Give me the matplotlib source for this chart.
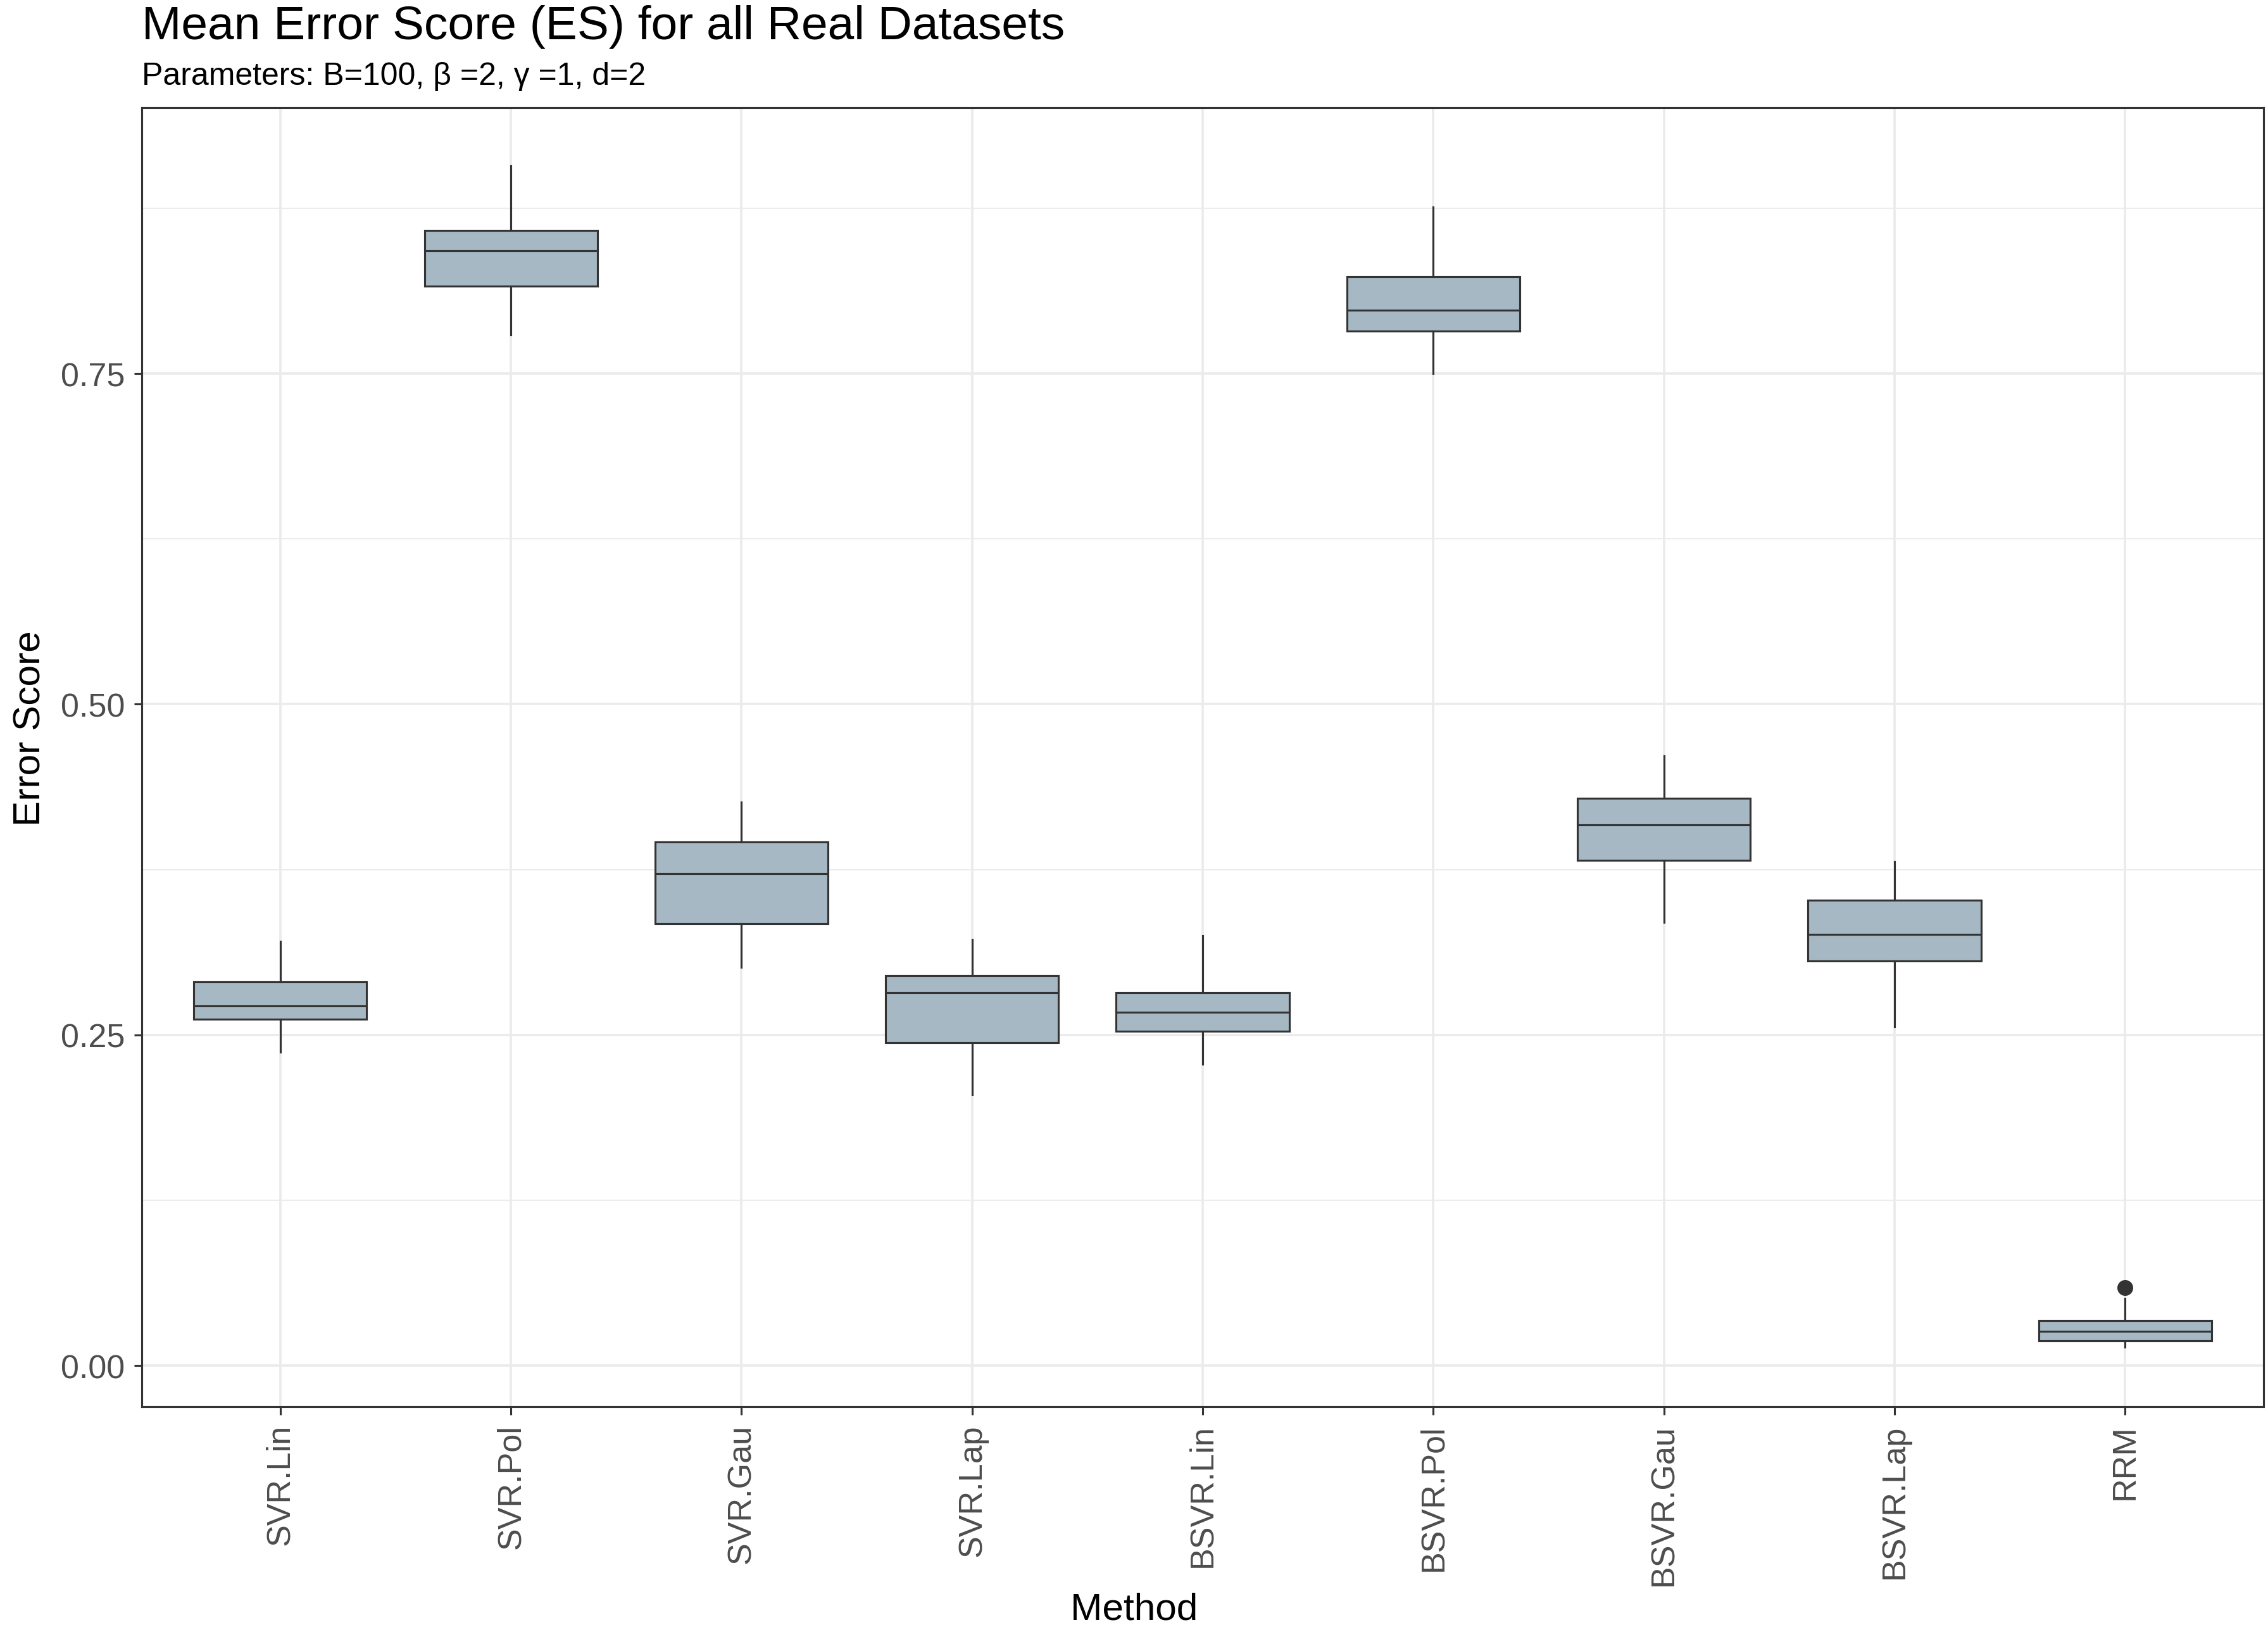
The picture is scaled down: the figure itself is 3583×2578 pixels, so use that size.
import matplotlib
matplotlib.use("Agg")
import matplotlib.pyplot as plt
from matplotlib.ticker import MultipleLocator

plt.rcParams['font.family'] = ['Liberation Sans', 'DejaVu Sans']

# --- DATA ---
methods = ["SVR.Lin", "SVR.Pol", "SVR.Gau", "SVR.Lap", "BSVR.Lin",
           "BSVR.Pol", "BSVR.Gau", "BSVR.Lap", "RRM"]
whislo = [0.237, 0.779, 0.301, 0.205, 0.228, 0.750, 0.335, 0.256, 0.014]
q1     = [0.262, 0.816, 0.334, 0.244, 0.253, 0.782, 0.382, 0.306, 0.019]
med    = [0.272, 0.843, 0.372, 0.282, 0.267, 0.798, 0.409, 0.326, 0.026]
q3     = [0.290, 0.858, 0.396, 0.295, 0.282, 0.823, 0.429, 0.352, 0.034]
whishi = [0.321, 0.907, 0.426, 0.322, 0.325, 0.876, 0.461, 0.381, 0.051]
fliers = [[], [], [], [], [], [], [], [], [0.059]]

fill_col = "#A5B8C3"
edge_col = "#333333"
grid_col = "#EBEBEB"

fig = plt.figure(figsize=(3583 / 300, 2579 / 300), dpi=300)
ax = fig.add_axes([0.0626, 0.138, 0.9354, 0.7957])

stats = []
for i, m in enumerate(methods):
    stats.append(dict(label=m, whislo=whislo[i], q1=q1[i], med=med[i],
                      q3=q3[i], whishi=whishi[i], fliers=fliers[i]))

positions = list(range(1, len(methods) + 1))
ax.bxp(stats, positions=positions, widths=0.75, patch_artist=True,
       showcaps=False,
       boxprops=dict(facecolor=fill_col, edgecolor=edge_col, linewidth=0.75),
       medianprops=dict(color=edge_col, linewidth=0.75),
       whiskerprops=dict(color=edge_col, linewidth=0.75),
       flierprops=dict(marker='o', markerfacecolor=edge_col,
                       markeredgecolor=edge_col, markersize=5),
       zorder=3)

# --- AXES STYLE (theme_bw look) ---
ax.set_xlim(0.4, len(methods) + 0.6)
ax.set_ylim(-0.031, 0.951)
ax.yaxis.set_minor_locator(MultipleLocator(0.125))
ax.set_yticks([0, 0.25, 0.5, 0.75])
ax.set_yticklabels(["0.00", "0.25", "0.50", "0.75"])
ax.set_xticks(positions)
ax.set_xticklabels(methods, rotation=90, va='top', ha='center')

ax.grid(which='major', color=grid_col, linewidth=0.9, zorder=0)
ax.grid(which='minor', axis='y', color=grid_col, linewidth=0.45, zorder=0)
ax.set_axisbelow(True)
ax.tick_params(which='minor', length=0)
ax.tick_params(which='major', length=3, width=0.75, color=edge_col,
               labelcolor="#4D4D4D", labelsize=12.5, pad=3.5)
for s in ax.spines.values():
    s.set_color(edge_col)
    s.set_linewidth(0.75)

# axis titles placed like the reference (centred on the figure)
fig.text(0.5, 0.008, "Method", fontsize=14.5, ha='center', va='baseline')
fig.text(0.0135, 0.554, "Error Score", fontsize=14.5, rotation=90,
         ha='center', va='center')

fig.text(0.0626, 0.976, "Mean Error Score (ES) for all Real Datasets",
         fontsize=18, ha='left', va='baseline')
fig.text(0.0626, 0.948, "Parameters: B=100, \u03b2 =2, \u03b3 =1, d=2",
         fontsize=12, ha='left', va='baseline')

fig.savefig("out.png", dpi=300)
